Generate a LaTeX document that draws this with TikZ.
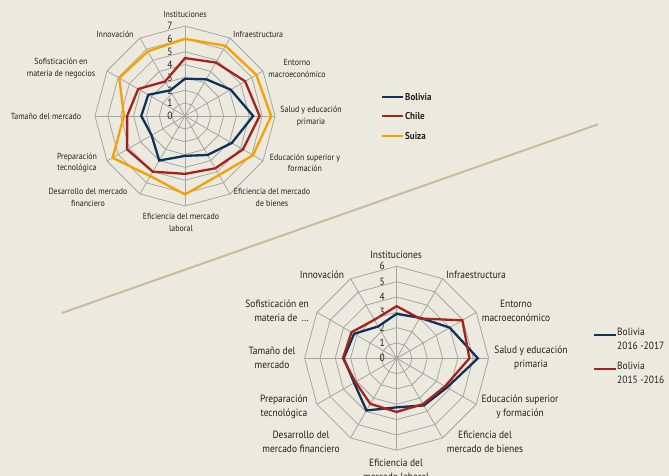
\documentclass[tikz,border=0pt]{standalone}
\usepackage{fontspec}
\setmainfont{PT Sans}[FakeStretch=0.9]
\definecolor{bg}{RGB}{236,234,223}
\definecolor{gridc}{RGB}{165,165,165}
\definecolor{bolc}{RGB}{14,50,90}
\definecolor{chic}{RGB}{165,35,28}
\definecolor{suic}{RGB}{247,160,0}
\definecolor{tanc}{RGB}{199,187,160}
\definecolor{txt}{RGB}{35,31,32}
\begin{document}
\begin{tikzpicture}[x=1pt,y=1pt,
  gridline/.style={draw=gridc,line width=0.8pt},
  serie/.style={line width=2.3pt,line join=miter},
  labA/.style={font=\fontsize{8.8}{11.5}\selectfont,text=txt,align=center,inner sep=0pt},
  labB/.style={font=\fontsize{10.5}{14}\selectfont,text=txt,align=center,inner sep=0pt},
  numA/.style={font=\fontsize{10.5}{11}\selectfont,text=txt,inner sep=0pt},
  numB/.style={font=\fontsize{10.5}{11}\selectfont,text=txt,inner sep=0pt},
  legA/.style={font=\fontsize{10}{11}\selectfont\bfseries,text=txt,inner sep=0pt,anchor=west},
  legline/.style={line width=2.3pt}]
\fill[bg] (0,0) rectangle (669,476);
\useasboundingbox (0,0) rectangle (669,476);

% diagonal separator
\coordinate (dA) at (62,163);
\coordinate (dB) at (598,351.7);
\draw[tanc,line width=2pt] (dA) -- (dB);

% ---------------- top chart ----------------
\def\uA{12.86}
\begin{scope}[shift={(185,360)}]
  \foreach \k in {1,...,7}
    \draw[gridline] (90:{\k*\uA}) \foreach \i in {1,...,11} {-- ({90-30*\i}:{\k*\uA})} -- cycle;
  \foreach \i in {0,...,11}
    \draw[gridline] (0,0) -- ({90-30*\i}:{7*\uA});
  \foreach \k in {0,...,7}
    \node[numA] (nA\k) at (-15,{\k*\uA}) {\k};
  % Bolivia
  \draw[serie,bolc] (90:{2.9*\uA}) \foreach \v [count=\i] in {3.3,4.1,5.3,4.2,3.5,3.1,4.0,3.0,3.4,3.3,2.3} {-- ({90-30*\i}:{\v*\uA})} -- cycle;
  % Chile
  \draw[serie,chic] (90:{4.5*\uA}) \foreach \v [count=\i] in {4.8,5.4,5.8,5.2,4.7,4.5,5.0,5.2,4.5,4.2,3.1} {-- ({90-30*\i}:{\v*\uA})} -- cycle;
  % Suiza
  \draw[serie,suic] (90:{6.0*\uA}) \foreach \v [count=\i] in {6.3,6.4,6.7,6.1,5.3,6.1,5.4,6.5,4.75,5.9,5.8} {-- ({90-30*\i}:{\v*\uA})} -- cycle;
\end{scope}

\node[labA] (tA1) at (185,462) {Instituciones};
\node[labA] (tA2) at (258,442) {Infraestructura};
\node[labA] (tA3) at (297,407.5) {Entorno\\macroeconómico};
\node[labA] (tA4) at (311,360) {Salud y educación\\primaria};
\node[labA] (tA5) at (305,313) {Educación superior y\\formación};
\node[labA] (tA6) at (272,278.5) {Eficiencia del mercado\\de bienes};
\node[labA] (tA7) at (181,253.5) {Eficiencia del mercado\\laboral};
\node[labA] (tA8) at (88,278.5) {Desarrollo del mercado\\financiero};
\node[labA] (tA9) at (77,313) {Preparación\\tecnológica};
\node[labA] (tA10) at (46,360) {Tamaño del mercado};
\node[labA] (tA11) at (61,407.5) {Sofisticación en\\materia de negocios};
\node[labA] (tA12) at (115,442) {Innovación};

% top legend
\coordinate (lgA1a) at (382,379.3); \coordinate (lgA1b) at (403,379.3);
\coordinate (lgA2a) at (382,360);   \coordinate (lgA2b) at (403,360);
\coordinate (lgA3a) at (382,340.3); \coordinate (lgA3b) at (403,340.3);
\draw[legline,bolc] (lgA1a) -- (lgA1b);
\draw[legline,chic] (lgA2a) -- (lgA2b);
\draw[legline,suic] (lgA3a) -- (lgA3b);
\node[legA] (lA1) at (405,379.3) {Bolivia};
\node[legA] (lA2) at (405,360) {Chile};
\node[legA] (lA3) at (405,340.3) {Suiza};

% ---------------- bottom chart ----------------
\def\uB{15.33}
\begin{scope}[shift={(396.6,117.7)}]
  \foreach \k in {1,...,6}
    \draw[gridline] (90:{\k*\uB}) \foreach \i in {1,...,11} {-- ({90-30*\i}:{\k*\uB})} -- cycle;
  \foreach \i in {0,...,11}
    \draw[gridline] (0,0) -- ({90-30*\i}:{6*\uB});
  \foreach \k in {0,...,6}
    \node[numB] (nB\k) at (-14.5,{\k*\uB}) {\k};
  % Bolivia 2016-2017
  \draw[serie,bolc] (90:{2.9*\uB}) \foreach \v [count=\i] in {3.05,4.0,5.3,3.8,3.55,3.2,3.93,3.2,3.45,3.2,2.4} {-- ({90-30*\i}:{\v*\uB})} -- cycle;
  % Bolivia 2015-2016
  \draw[serie,chic] (90:{3.4*\uB}) \foreach \v [count=\i] in {3.0,4.95,4.75,3.65,3.45,3.5,3.43,3.1,3.5,3.4,2.9} {-- ({90-30*\i}:{\v*\uB})} -- cycle;
\end{scope}

\node[labB] (tB1) at (396,221) {Instituciones};
\node[labB] (tB2) at (476,201) {Infraestructura};
\node[labB] (tB3) at (516,165.5) {Entorno\\macroeconómico};
\node[labB] (tB4) at (531,118) {Salud y educación\\primaria};
\node[labB] (tB5) at (520,69) {Educación superior\\y formación};
\node[labB] (tB6) at (485,34) {Eficiencia del\\mercado de bienes};
\node[labB] (tB7) at (396,6) {Eficiencia del\\mercado laboral};
\node[labB] (tB8) at (301,34) {Desarrollo del\\mercado financiero};
\node[labB] (tB9) at (284,69) {Preparación\\tecnológica};
\node[labB] (tB10) at (272,118) {Tamaño del\\mercado};
\node[labB,align=right,anchor=east] (tB11) at (309,165) {Sofisticación en\\materia de \,…};
\node[labB] (tB12) at (322,201) {Innovación};

% bottom legend
\coordinate (lgB1a) at (594,141); \coordinate (lgB1b) at (616,141);
\coordinate (lgB2a) at (594,107); \coordinate (lgB2b) at (616,107);
\draw[legline,bolc] (lgB1a) -- (lgB1b);
\draw[legline,chic] (lgB2a) -- (lgB2b);
\node[labB,align=left,anchor=north west] (lB1) at (617,148) {Bolivia\\2016 -2017};
\node[labB,align=left,anchor=north west] (lB2) at (617,114) {Bolivia\\2015 -2016};
\end{tikzpicture}
\end{document}
